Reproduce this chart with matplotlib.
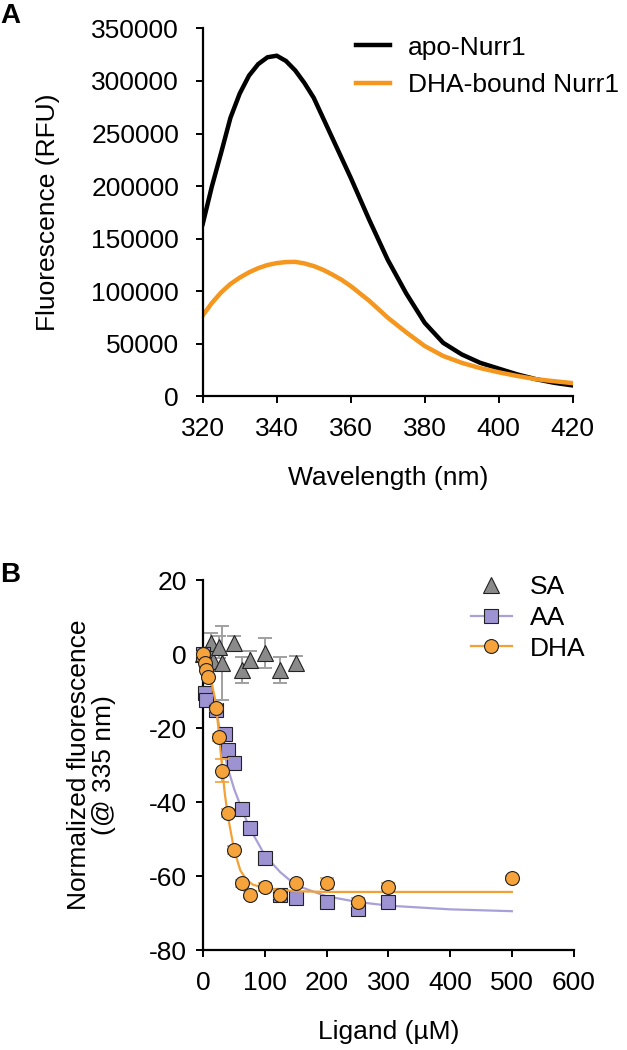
import matplotlib
matplotlib.use("Agg")
import matplotlib.pyplot as plt
from matplotlib.lines import Line2D
from matplotlib.ticker import FormatStrFormatter

plt.rcParams["font.family"] = ["Liberation Sans", "DejaVu Sans"]
plt.rcParams["font.size"] = 19
plt.rcParams["axes.unicode_minus"] = False


# ==================================================
# DATA - PANEL A (emission spectra)
# ==================================================

wavelength = [320, 322.5, 325, 327.5, 330, 332.5, 335, 337.5, 340, 342.5,
              345, 347.5, 350, 352.5, 355, 357.5, 360, 365, 370, 375,
              380, 385, 390, 395, 400, 405, 410, 415, 420]

apo_nurr1 = [164000, 200000, 232000, 265000, 288000, 305000, 316000,
             322500, 324000, 319000, 310000, 298000, 284000, 265000,
             246000, 227000, 208000, 168000, 130000, 98000, 70000,
             51000, 40000, 32000, 26500, 21000, 16500, 13000, 10500]

dha_nurr1 = [77000, 89000, 99000, 107000, 113000, 118000, 122000,
             125000, 126800, 127800, 128000, 126500, 124000, 120500,
             116000, 111000, 105000, 91000, 75000, 61000, 48000,
             38500, 32000, 27000, 23000, 19500, 16500, 14500, 12700]

spec_labels = ["apo-Nurr1", "DHA-bound Nurr1"]


# ==================================================
# DATA - PANEL B (titration)
# ==================================================

sa_x = [0, 12.5, 15, 25, 31, 50, 62.5, 75, 100, 125, 150]
sa_y = [0, 3, -2, 2, -2.5, 3, -4.3, -1.6, 0.3, -4.3, -2.5]
sa_err = [1, 2.7, 2, 3, 10, 2, 3.6, 2.3, 4, 3.5, 2]

aa_x = [0, 2.5, 5, 20, 35, 40, 50, 62.5, 75, 100, 125, 150, 200, 250, 300]
aa_y = [0, -10.5, -12.5, -15, -21.5, -26, -29.5, -42, -47, -55, -65,
        -66, -67, -69, -67]

dha_x = [0, 2.5, 5, 7.5, 20, 25, 30, 40, 50, 62.5, 75, 100, 125, 150,
         200, 250, 300, 500]
dha_y = [0, -2.3, -4.2, -6.2, -14.5, -22.5, -31.5, -43, -53, -62, -65,
         -63, -65, -62, -62, -67, -63, -60.5]
dha_err = [0.5, 0.5, 0.5, 0.5, 1, 1, 3, 1, 1, 1, 1, 1, 1, 1, 1.6, 1, 1, 0.5]

# fitted curves
aa_fit_x = [0, 10, 20, 30, 40, 50, 62.5, 75, 100, 125, 150, 200, 250,
            300, 400, 500]
aa_fit_y = [-1, -6, -14, -24, -31, -36.5, -42, -47, -54.5, -59, -62.5,
            -65.5, -67, -68, -69, -69.5]

dha_fit_x = [0, 10, 20, 25, 30, 35, 40, 50, 60, 70, 80, 100, 150, 200,
             300, 500]
dha_fit_y = [0, -5, -13, -21, -30, -38, -44, -53, -58.5, -61, -62.3,
             -63.3, -64.1, -64.3, -64.3, -64.3]

lig_labels = ["SA", "AA", "DHA"]


# ==================================================
# COLOURS
# ==================================================

ORANGE_A = "#F5961E"
ORANGE = "#F5A33A"
ORANGE_LINE = "#F4A035"
PURPLE = "#9D93D2"
PURPLE_LINE = "#A8A0D8"
GRAY = "#8A8A8A"
GRAY_ERR = "#A0A0A0"
EDGE = "#222222"


def style_axes(ax, ypad, xpad):
    for side in ("top", "right"):
        ax.spines[side].set_visible(False)
    for side in ("left", "bottom"):
        ax.spines[side].set_linewidth(1.6)
    ax.tick_params(direction="out", length=5, width=1.4, labelsize=19)
    ax.tick_params(axis="y", pad=ypad)
    ax.tick_params(axis="x", pad=xpad)


fig = plt.figure(figsize=(6.27, 10.5), dpi=100)


# ==================================================
# PANEL A
# ==================================================

ax1 = fig.add_axes([0.3233, 0.6224, 0.5901, 0.3506])

ax1.plot(wavelength, apo_nurr1, color="black", lw=3.2,
         label=spec_labels[0])
ax1.plot(wavelength, dha_nurr1, color=ORANGE_A, lw=3.2,
         label=spec_labels[1])

ax1.set_xlim(320, 420)
ax1.set_ylim(0, 350000)
ax1.set_xticks(range(320, 421, 20))
ax1.set_yticks(range(0, 350001, 50000))
ax1.yaxis.set_major_formatter(FormatStrFormatter("%d"))
style_axes(ax1, ypad=12, xpad=10)

ax1.set_xlabel("Wavelength (nm)", fontsize=19, labelpad=18)
ax1.set_ylabel("Fluorescence (RFU)", fontsize=19)
ax1.yaxis.set_label_coords(-0.385, 0.5)

ax1.legend(loc="upper left", bbox_to_anchor=(0.568, 0.966),
           bbox_transform=fig.transFigure, frameon=False,
           handlelength=1.3, handletextpad=0.65, labelspacing=0.5,
           borderpad=0, borderaxespad=0, fontsize=19)

fig.text(0.0, 0.997, "A", fontsize=20, fontweight="bold",
         ha="left", va="top")


# ==================================================
# PANEL B
# ==================================================

ax2 = fig.add_axes([0.3243, 0.0952, 0.5904, 0.3524])

ax2.errorbar(sa_x, sa_y, yerr=sa_err, fmt="none", ecolor=GRAY_ERR,
             elinewidth=1.4, capsize=5, capthick=1.4, zorder=2,
             clip_on=False)
ax2.plot(sa_x, sa_y, linestyle="none", marker="^", markersize=11,
         markerfacecolor=GRAY, markeredgecolor=EDGE, markeredgewidth=0.8,
         zorder=3, clip_on=False)

ax2.plot(aa_fit_x, aa_fit_y, color=PURPLE_LINE, lw=1.6, zorder=4)
ax2.plot(aa_x, aa_y, linestyle="none", marker="s", markersize=10,
         markerfacecolor=PURPLE, markeredgecolor=EDGE, markeredgewidth=0.8,
         zorder=5, clip_on=False)

ax2.plot(dha_fit_x, dha_fit_y, color=ORANGE_LINE, lw=1.6, zorder=6)
ax2.errorbar(dha_x, dha_y, yerr=dha_err, fmt="none", ecolor=ORANGE_LINE,
             elinewidth=1.2, capsize=5, capthick=1.2, zorder=6,
             clip_on=False)
ax2.plot(dha_x, dha_y, linestyle="none", marker="o", markersize=10,
         markerfacecolor=ORANGE, markeredgecolor=EDGE, markeredgewidth=0.8,
         zorder=7, clip_on=False)

ax2.set_xlim(0, 600)
ax2.set_ylim(-80, 20)
ax2.set_xticks(range(0, 601, 100))
ax2.set_yticks(range(-80, 21, 20))
style_axes(ax2, ypad=7, xpad=10)

ax2.set_xlabel("Ligand (\u00b5M)", fontsize=19, labelpad=18)
ax2.set_ylabel("Normalized fluorescence\n(@ 335 nm)", fontsize=19,
               linespacing=1.05)
ax2.yaxis.set_label_coords(-0.235, 0.5)

handles = [
    Line2D([], [], linestyle="none", marker="^", markersize=11,
           markerfacecolor=GRAY, markeredgecolor=EDGE, markeredgewidth=0.8),
    Line2D([], [], color=PURPLE_LINE, lw=1.6, marker="s", markersize=10,
           markerfacecolor=PURPLE, markeredgecolor=EDGE, markeredgewidth=0.8),
    Line2D([], [], color=ORANGE_LINE, lw=1.6, marker="o", markersize=10,
           markerfacecolor=ORANGE, markeredgecolor=EDGE, markeredgewidth=0.8),
]
ax2.legend(handles, lig_labels, loc="upper left",
           bbox_to_anchor=(0.751, 0.452), bbox_transform=fig.transFigure,
           frameon=False, handlelength=1.55, handletextpad=0.7,
           labelspacing=0.25, borderpad=0, borderaxespad=0, fontsize=19)

fig.text(0.0, 0.465, "B", fontsize=20, fontweight="bold",
         ha="left", va="top")

fig.savefig("out.png", dpi=100)
